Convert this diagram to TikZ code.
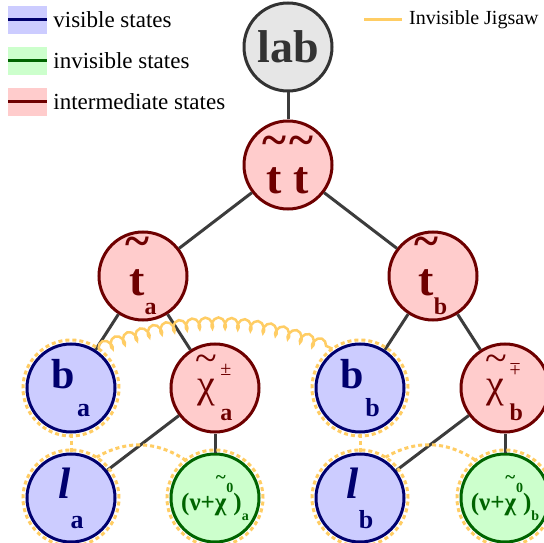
\documentclass[tikz,border=0pt]{standalone}
\usepackage{fontspec}
\setmainfont{Liberation Serif}
\usetikzlibrary{positioning, decorations.pathmorphing}

\definecolor{visfill}{RGB}{204,204,255}
\definecolor{visdraw}{RGB}{0,0,110}
\definecolor{invfill}{RGB}{204,255,204}
\definecolor{invdraw}{RGB}{0,100,0}
\definecolor{intfill}{RGB}{255,204,204}
\definecolor{intdraw}{RGB}{110,0,0}
\definecolor{labfill}{RGB}{230,230,230}
\definecolor{labdraw}{RGB}{51,51,51}
\definecolor{edgegray}{RGB}{60,60,60}
\definecolor{jigorange}{RGB}{255,205,100}

% tilde set high above a letter
\newsavebox{\tldbox}
\newcommand{\tldfont}{}
\newcommand{\tld}[2][0.83em]{%
  \sbox{\tldbox}{#2}%
  \makebox[0pt][l]{\makebox[\wd\tldbox][c]{\raisebox{#1}{\tldfont\textasciitilde}}}%
  \usebox{\tldbox}}
\newcommand{\fsz}[1]{\fontsize{#1}{#1}\selectfont}

\begin{document}
\begin{tikzpicture}[x=1pt, y=1pt,
    state/.style={circle, draw, line width=3pt, minimum size=88pt, inner sep=0pt, align=center},
    labstate/.style={state, fill=labfill, draw=labdraw, text=labdraw, font=\fsz{46}\bfseries},
    inter/.style={state, fill=intfill, draw=intdraw, text=intdraw},
    vis/.style={state, fill=visfill, draw=visdraw, text=visdraw},
    inv/.style={state, fill=invfill, draw=invdraw, text=invdraw, font=\fsz{25}\bfseries},
    edge/.style={line width=3pt, draw=edgegray},
    jig/.style={line width=3pt, draw=jigorange, dash pattern=on 4pt off 3pt},
    coilline/.style={line width=2.5pt, draw=jigorange, decorate, decoration={coil, aspect=0.6, amplitude=5.5pt, segment length=13pt}},
    swatch/.style={minimum width=39pt, minimum height=28pt, inner sep=0pt},
    legtext/.style={inner sep=0pt, font=\fsz{23}}
]
    \path[use as bounding box, fill=white] (0,0) rectangle (544,542);

    % Legend
    \node[swatch, fill=visfill] (Lvis) at (27.5,522) {};
    \draw[line width=3pt, visdraw] (Lvis.west) -- (Lvis.east);
    \node[legtext, right=6pt of Lvis] (Tvis) {visible states};
    \node[swatch, fill=invfill] (Linv) at (27.5,481) {};
    \draw[line width=3pt, invdraw] (Linv.west) -- (Linv.east);
    \node[legtext, right=6pt of Linv] (Tinv) {invisible states};
    \node[swatch, fill=intfill] (Lint) at (27.5,440) {};
    \draw[line width=3pt, intdraw] (Lint.west) -- (Lint.east);
    \node[legtext, right=6pt of Lint] (Tint) {intermediate states};
    \coordinate (J1) at (364,522);
    \coordinate (J2) at (402,522);
    \draw[line width=3pt, jigorange] (J1) -- (J2);
    \node[legtext, right=7pt of J2, font=\fsz{20}] (Tjig) {Invisible Jigsaw};

    % Tree
    \node[labstate] (lab) at (288,495) {lab};
    \node[inter, font=\fsz{46}\bfseries] (TT) at (288,377) {\tld{t}\ \tld{t}};
    \node[inter, font=\fsz{46}\bfseries] (Ta) at (143,266) {\tld{t}\raisebox{-0.42em}{\fsz{24}a}};
    \node[inter, font=\fsz{46}\bfseries] (Tb) at (433,266) {\tld{t}\raisebox{-0.42em}{\fsz{24}b}};

    \node[vis, font=\fsz{42}\bfseries] (Ba) at (71,154) {b\kern2pt\raisebox{-0.66em}{\fsz{26}a}};
    \node[inter, font=\fsz{40}] (Ca) at (215,154) {\tld[0.63em]{χ}\kern5pt\makebox[0pt][l]{\raisebox{0.55em}{\fsz{20}±}}\raisebox{-0.58em}{\fsz{24}\bfseries a}};
    \node[vis, font=\fsz{42}\bfseries] (Bb) at (360,154) {b\kern2pt\raisebox{-0.66em}{\fsz{26}b}};
    \node[inter, font=\fsz{40}] (Cb) at (505,154) {\tld[0.63em]{χ}\kern5pt\makebox[0pt][l]{\raisebox{0.55em}{\fsz{20}\rotatebox[origin=c]{180}{±}}}\raisebox{-0.58em}{\fsz{24}\bfseries b}};

    \node[vis, font=\fsz{44}\bfseries] (La) at (71,44) {\itshape l\upshape\raisebox{-0.68em}{\fsz{26}a}};
    \node[inv] (Na) at (215,44) {\renewcommand{\tldfont}{\fsz{19}}(ν+\tld[1.05em]{χ}\raisebox{0.72em}{\fsz{14}0})\raisebox{-0.4em}{\fsz{14}a}};
    \node[vis, font=\fsz{44}\bfseries] (Lb) at (360,44) {\itshape l\upshape\raisebox{-0.68em}{\fsz{26}b}};
    \node[inv] (Nb) at (505,44) {\renewcommand{\tldfont}{\fsz{19}}(ν+\tld[1.05em]{χ}\raisebox{0.72em}{\fsz{14}0})\raisebox{-0.4em}{\fsz{14}b}};

    % Decay edges
    \draw[edge] (lab) -- (TT);
    \draw[edge] (TT) -- (Ta);
    \draw[edge] (TT) -- (Tb);
    \draw[edge] (Ta) -- (Ba);
    \draw[edge] (Ta) -- (Ca);
    \draw[edge] (Tb) -- (Bb);
    \draw[edge] (Tb) -- (Cb);
    \draw[edge] (Ca) -- (La);
    \draw[edge] (Ca) -- (Na);
    \draw[edge] (Cb) -- (Lb);
    \draw[edge] (Cb) -- (Nb);

    % Invisible jigsaw
    \foreach \n in {Ba, Bb, La, Lb, Na, Nb}
        \draw[jig] (\n) circle[radius=48];
    \draw[jig] (Ba) -- (La);
    \draw[jig] (Bb) -- (Lb);
    \draw[jig] ([shift={(58:48)}]La.center) to[bend left=32] ([shift={(128:48)}]Na.center);
    \draw[jig] ([shift={(58:48)}]Lb.center) to[bend left=32] ([shift={(128:48)}]Nb.center);
    \draw[coilline] ([shift={(55:48)}]Ba.center) to[bend left=22] ([shift={(125:48)}]Bb.center);
\end{tikzpicture}
\end{document}
